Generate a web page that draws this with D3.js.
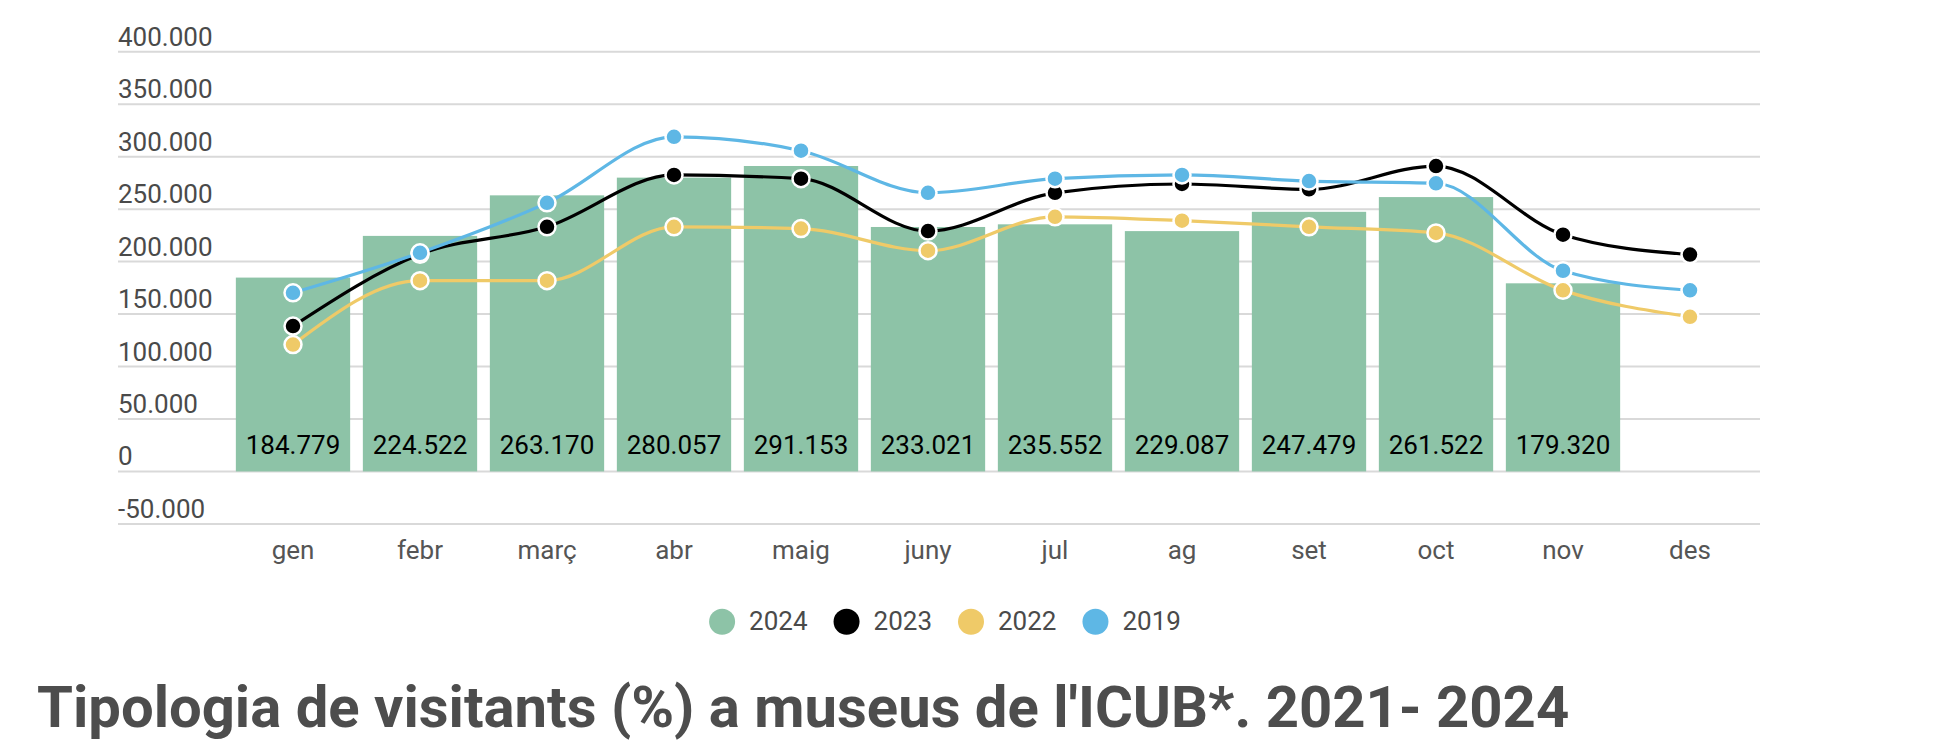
<!DOCTYPE html>
<html>
<head>
<meta charset="utf-8">
<script src="https://cdn.jsdelivr.net/npm/d3@7"></script>
<style>
  body { margin: 0; background: #fff; }
  text { font-family: Roboto, "Noto Sans", sans-serif; }
</style>
</head>
<body>
<script>
var months = ["gen", "febr", "març", "abr", "maig", "juny", "jul", "ag", "set", "oct", "nov", "des"];

// bars
var visitors2024 = [184779, 224522, 263170, 280057, 291153, 233021, 235552, 229087, 247479, 261522, 179320, null];

// lines
var visitors2023 = [138600, 207000, 233200, 282600, 279100, 229100, 265600, 274000, 268900, 291100, 225700, 206700];
var visitors2022 = [120900, 181800, 181800, 233200, 231500, 210400, 242700, 239000, 233200, 227400, 172600, 147400];
var visitors2019 = [170300, 208400, 256000, 319000, 305700, 265600, 279100, 282600, 276800, 274700, 191300, 172600];

var yTicks = [-50000, 0, 50000, 100000, 150000, 200000, 250000, 300000, 350000, 400000];
var legendNames = ["2024", "2023", "2022", "2019"];
var legendColors = ["#8dc3a7", "#000000", "#efca68", "#5eb7e5"];

var title = "Tipologia de visitants (%) a museus de l'ICUB*. 2021- 2024";

var W = 1956, H = 743;
var svg = d3.select("body").append("svg").attr("width", W).attr("height", H);

var gridLeft = 118, gridRight = 1760;

var x = d3.scaleBand().domain(months).range([229.5, 1753.5]).paddingInner(0.1).paddingOuter(0.05);
var y = d3.scaleLinear().domain([-50000, 400000]).range([523.9, 51.8]);

var locale = d3.formatLocale({ decimal: ",", thousands: ".", grouping: [3], currency: ["", "€"], minus: "-" });
var fmt = locale.format(",d");

// grid + y labels
var grid = svg.append("g");
grid.selectAll("line").data(yTicks).enter().append("line")
  .attr("x1", gridLeft).attr("x2", gridRight)
  .attr("y1", function(d) { return y(d); })
  .attr("y2", function(d) { return y(d); })
  .style("stroke", "#d9d9d9").style("stroke-width", 2);
grid.selectAll("text").data(yTicks).enter().append("text")
  .attr("x", gridLeft)
  .attr("y", function(d) { return y(d) - 6; })
  .style("font-size", "26px")
  .style("fill", "#4a4a4a")
  .text(function(d) { return fmt(d); });

// bars
var barData = months.map(function(m, i) { return { m: m, v: visitors2024[i] }; })
  .filter(function(d) { return d.v != null; });

svg.append("g").selectAll("rect").data(barData).enter().append("rect")
  .attr("x", function(d) { return x(d.m); })
  .attr("width", x.bandwidth())
  .attr("y", function(d) { return y(d.v); })
  .attr("height", function(d) { return y(0) - y(d.v); })
  .style("fill", "#8dc3a7");

svg.append("g").selectAll("text").data(barData).enter().append("text")
  .attr("x", function(d) { return x(d.m) + x.bandwidth() / 2; })
  .attr("y", y(0) - 17)
  .style("text-anchor", "middle")
  .style("font-size", "26px")
  .style("fill", "#000")
  .text(function(d) { return fmt(d.v); });

// x labels
svg.append("g").selectAll("text").data(months).enter().append("text")
  .attr("x", function(d) { return x(d) + x.bandwidth() / 2; })
  .attr("y", 559)
  .style("text-anchor", "middle")
  .style("font-size", "26px")
  .style("fill", "#555")
  .text(function(d) { return d; });

// lines
var series = [
  { values: visitors2023, color: "#000000" },
  { values: visitors2019, color: "#5eb7e5" },
  { values: visitors2022, color: "#efca68" }
];

var line = d3.line()
  .x(function(d, i) { return x(months[i]) + x.bandwidth() / 2; })
  .y(function(d) { return y(d); })
  .curve(d3.curveMonotoneX);

series.forEach(function(s) {
  var g = svg.append("g");
  g.append("path")
    .attr("d", line(s.values))
    .style("fill", "none")
    .style("stroke", s.color)
    .style("stroke-width", 3.2);
  g.selectAll("circle").data(s.values).enter().append("circle")
    .attr("cx", function(d, i) { return x(months[i]) + x.bandwidth() / 2; })
    .attr("cy", function(d) { return y(d); })
    .attr("r", 8.5)
    .style("fill", s.color)
    .style("stroke", "#fff")
    .style("stroke-width", 2.5);
});

// legend
var legend = svg.append("g");
var lx = 0;
legendNames.forEach(function(name, i) {
  var item = legend.append("g").attr("transform", "translate(" + lx + ",0)");
  item.append("circle").attr("cx", 13).attr("cy", 0).attr("r", 13).style("fill", legendColors[i]);
  var t = item.append("text")
    .attr("x", 40).attr("y", 8)
    .style("font-size", "26px")
    .style("fill", "#4a4a4a")
    .text(name);
  lx += 40 + t.node().getComputedTextLength() + 26;
});
var legendWidth = lx - 26;
legend.attr("transform", "translate(" + (945 - legendWidth / 2) + ",621.7)");

// title
svg.append("text")
  .attr("x", 37)
  .attr("y", 727)
  .style("font-size", "58px")
  .style("font-weight", "bold")
  .style("fill", "#4d4d4d")
  .text(title);
</script>
</body>
</html>
